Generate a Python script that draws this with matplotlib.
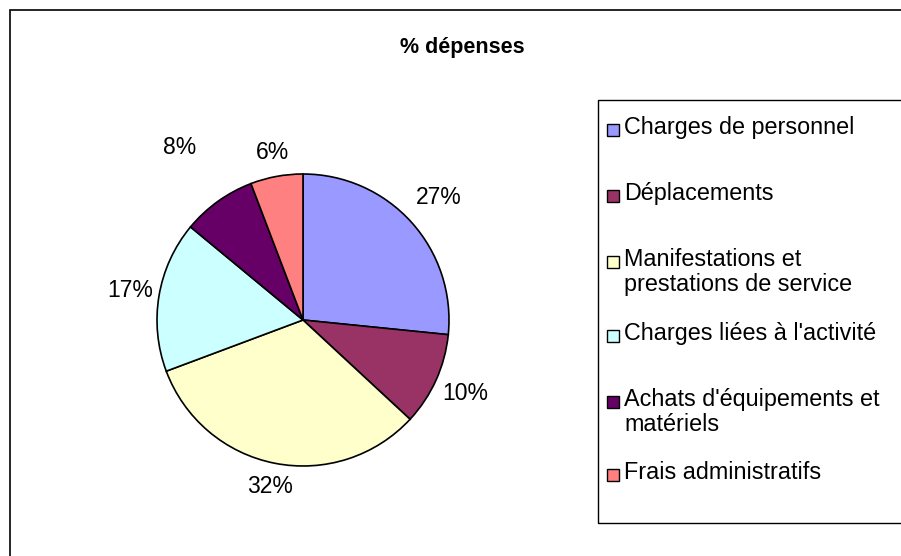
import numpy as np
import matplotlib
matplotlib.use("Agg")
import matplotlib.pyplot as plt
from matplotlib.patches import Rectangle

plt.rcParams['font.family'] = ['Liberation Sans', 'DejaVu Sans']

# données
categories = ["Charges de personnel", "Déplacements",
              "Manifestations et\nprestations de service",
              "Charges liées à l'activité",
              "Achats d'équipements et\nmatériels",
              "Frais administratifs"]
valeurs = [26.6, 10.3, 32.4, 16.7, 8.2, 5.8]
etiquettes = ["27%", "10%", "32%", "17%", "8%", "6%"]
couleurs = ["#9999FF", "#993366", "#FFFFCC", "#CCFFFF", "#660066", "#FF8080"]

W, H = 901, 556
fig = plt.figure(figsize=(W / 100, H / 100), dpi=100)

def px(x, y):
    # pixels (origine en haut a gauche) -> coordonnees figure
    return x / W, 1 - y / H

# cadre du graphique (coupe a droite et en bas)
fig.add_artist(Rectangle(px(9.5, 600), 1000 / W, 590 / H,
                         transform=fig.transFigure, fill=False,
                         edgecolor="black", lw=1.2))

fig.text(*px(462, 47), "% dépenses", ha="center", va="center",
         fontsize=15.5, fontweight="bold")

# camembert
cx, cy, r = 303, 320, 146
x0, y0 = px(cx - r, cy + r)
ax = fig.add_axes([x0, y0, 2 * r / W, 2 * r / H])
wedges, _ = ax.pie(valeurs, colors=couleurs, startangle=90, counterclock=False,
                   wedgeprops=dict(edgecolor="black", linewidth=1.2))
ax.set_xlim(-1, 1)
ax.set_ylim(-1, 1)
ax.set_aspect("equal")
ax.axis("off")

dist = [1.25, 1.22, 1.16, 1.2, 1.45, 1.17]
for w, lab, d in zip(wedges, etiquettes, dist):
    ang = np.deg2rad((w.theta1 + w.theta2) / 2)
    ax.text(d * np.cos(ang), d * np.sin(ang), lab, ha="center", va="center",
            fontsize=16.5, clip_on=False)

# legende
fig.add_artist(Rectangle(px(598, 523), 400 / W, 423 / H,
                         transform=fig.transFigure, fill=False,
                         edgecolor="black", lw=1))
lignes_base = [134, 200, 266, 340, 406, 479]
for lab, c, yb in zip(categories, couleurs, lignes_base):
    fig.add_artist(Rectangle(px(607, yb + 2), 12 / W, 12 / H,
                             transform=fig.transFigure, facecolor=c,
                             edgecolor="black", lw=1))
    premiere, *suite = lab.split("\n")
    fig.text(*px(624, yb), premiere, ha="left", va="baseline", fontsize=16.8)
    for i, s in enumerate(suite, 1):
        fig.text(*px(624, yb + 25 * i), s, ha="left", va="baseline",
                 fontsize=16.8)

fig.savefig("out.png", dpi=100)
